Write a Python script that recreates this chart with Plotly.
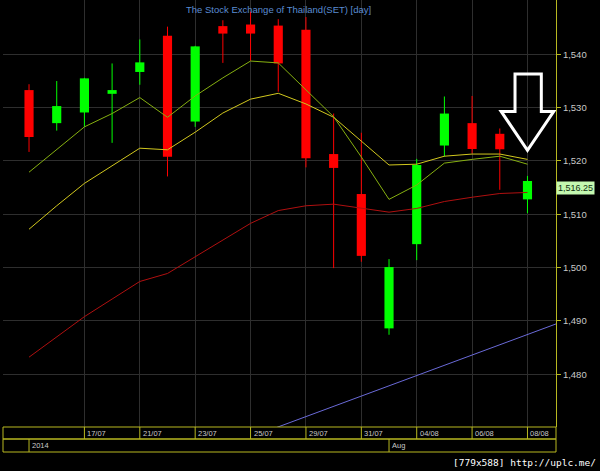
import plotly.graph_objects as go

# ---------------- data ----------------
dates = ["15/07", "16/07", "17/07", "18/07", "21/07", "22/07", "23/07", "24/07", "25/07",
         "28/07", "29/07", "30/07", "31/07", "01/08", "04/08", "05/08", "06/08", "07/08", "08/08"]
opens = [1533.3, 1527.1, 1529.1, 1532.6, 1536.7, 1543.5, 1527.4, 1545.3, 1545.6,
         1545.4, 1544.6, 1521.3, 1513.8, 1488.6, 1504.4, 1522.9, 1527.1, 1525.1, 1512.8]
highs = [1534.4, 1535.0, 1535.6, 1538.3, 1542.8, 1545.2, 1541.6, 1546.4, 1548.0,
         1546.6, 1547.0, 1528.9, 1525.3, 1501.6, 1520.4, 1532.1, 1532.2, 1526.1, 1517.2]
lows = [1521.7, 1525.7, 1526.4, 1523.4, 1534.3, 1517.1, 1526.4, 1538.4, 1538.8,
        1533.0, 1518.8, 1499.9, 1501.1, 1487.4, 1501.4, 1520.8, 1521.4, 1514.6, 1510.2]
closes = [1524.5, 1530.3, 1535.5, 1533.3, 1538.5, 1520.8, 1541.5, 1543.9, 1543.9,
          1538.3, 1520.5, 1518.7, 1502.2, 1500.1, 1519.25, 1528.9, 1522.25, 1522.2, 1516.25]
ma_fast = [1517.9, 1522.2, 1526.4, 1528.9, 1531.9, 1528.2, 1532.2, 1535.6, 1538.75,
           1538.4, 1533.3, 1528.3, 1520.75, 1512.8, 1515.5, 1519.6, 1520.3, 1520.9, 1519.4]
ma_mid = [1507.2, 1511.6, 1515.8, 1519.1, 1522.4, 1522.1, 1525.4, 1529.0, 1531.6,
          1532.7, 1530.7, 1528.2, 1523.75, 1519.25, 1519.4, 1520.9, 1521.3, 1521.3, 1520.3]
ma_slow = [1483.2, 1487.0, 1490.8, 1494.1, 1497.4, 1498.9, 1502.0, 1505.2, 1508.3,
           1510.7, 1511.6, 1511.9, 1511.2, 1510.4, 1511.1, 1512.4, 1513.2, 1513.9, 1514.1]
trend_idx = [8, 20]
trend_vals = [1468.2, 1491.3]
y_ticks = [1480, 1490, 1500, 1510, 1520, 1530, 1540]
label_dates = dates[2::2]
year_label = "2014"
month_label = "Aug"
month_start = "01/08"
title_text = "The Stock Exchange of Thailand(SET) [day]"
last_price = closes[-1]

# ---------------- styling ----------------
W, H = 600, 471
L, R, T, B = 3, 44, 0, 44
PLOT_H = H - T - B
UP, DOWN = "#00ff00", "#ff0000"
AXIS_YEL = "#b8b820"
GRID = "#2e2e2e"
LABEL = "#c8c8c8"

idx = list(range(len(dates)))

def px_y(py):
    """pixel (from top of page) -> paper y"""
    return (PLOT_H + T - py) / PLOT_H

fig = go.Figure()

# wicks
for color, cond in ((UP, lambda o, c: c >= o), (DOWN, lambda o, c: c < o)):
    xs, ys = [], []
    for i, o, h, l, c in zip(idx, opens, highs, lows, closes):
        if cond(o, c):
            xs += [i, i, None]
            ys += [l, h, None]
    fig.add_trace(go.Scatter(x=xs, y=ys, mode="lines", line=dict(color=color, width=1),
                             hoverinfo="skip", showlegend=False))

# bodies
base = [min(o, c) for o, c in zip(opens, closes)]
size = [max(abs(c - o), 0.35) for o, c in zip(opens, closes)]
colors = [UP if c >= o else DOWN for o, c in zip(opens, closes)]
fig.add_trace(go.Bar(x=idx, y=size, base=base, width=0.33, marker=dict(color=colors, line=dict(width=0)),
                     showlegend=False, hoverinfo="skip"))

# moving averages
fig.add_trace(go.Scatter(x=idx, y=ma_slow, mode="lines", line=dict(color="#b01010", width=1), showlegend=False))
fig.add_trace(go.Scatter(x=idx, y=ma_mid, mode="lines", line=dict(color="#d2c81e", width=1), showlegend=False))
fig.add_trace(go.Scatter(x=idx, y=ma_fast, mode="lines", line=dict(color="#86b010", width=1), showlegend=False))
fig.add_trace(go.Scatter(x=trend_idx, y=trend_vals, mode="lines", line=dict(color="#6a6ad8", width=1), showlegend=False))

shapes = []
annotations = []

# bottom date band
r1_top, r1_bot, r2_bot = px_y(427), px_y(439), px_y(452)
band_line = dict(color=AXIS_YEL, width=1)
shapes.append(dict(type="rect", xref="paper", yref="paper", x0=0, x1=1, y0=r1_bot, y1=r1_top, line=band_line))
shapes.append(dict(type="rect", xref="paper", yref="paper", x0=0, x1=1, y0=r2_bot, y1=r1_bot, line=band_line))
for d in label_dates:
    i = dates.index(d)
    shapes.append(dict(type="line", xref="x", yref="paper", x0=i, x1=i, y0=r1_bot, y1=r1_top, line=band_line))
    annotations.append(dict(x=i, y=(r1_top + r1_bot) / 2, xref="x", yref="paper", text=d, showarrow=False,
                            xanchor="left", yanchor="middle", xshift=1,
                            font=dict(family="Liberation Sans, Arial", size=7.5, color=LABEL)))
for lab, i in ((year_label, 0), (month_label, dates.index(month_start))):
    shapes.append(dict(type="line", xref="x", yref="paper", x0=i, x1=i, y0=r2_bot, y1=r1_bot, line=band_line))
    annotations.append(dict(x=i, y=(r1_bot + r2_bot) / 2, xref="x", yref="paper", text=lab, showarrow=False,
                            xanchor="left", yanchor="middle", xshift=1,
                            font=dict(family="Liberation Sans, Arial", size=7.5, color=LABEL)))

# white arrow pointing at last candle
last = idx[-1]
ax = [last - 0.45, last + 0.5, last + 0.5, last + 0.95, last, last - 0.95, last - 0.45]
ay = [1536.3, 1536.3, 1529.3, 1529.3, 1522.0, 1529.3, 1529.3]
path = "M " + " L ".join(f"{x},{y}" for x, y in zip(ax, ay)) + " Z"
shapes.append(dict(type="path", xref="x", yref="y", path=path, line=dict(color="white", width=3),
                   fillcolor="rgba(0,0,0,0)"))

# title
annotations.append(dict(x=9, y=1, xref="x", yref="paper", text=title_text, showarrow=False,
                        xanchor="center", yanchor="top", yshift=-2,
                        font=dict(family="Liberation Sans, Arial", size=9.5, color="#5a8cd2")))
# last price tag
annotations.append(dict(x=1, y=last_price, xref="paper", yref="y", text=f"{last_price:,.2f}", showarrow=False,
                        xanchor="left", yanchor="top", bgcolor="#c4f8b0", borderpad=1,
                        font=dict(family="Liberation Sans, Arial", size=9, color="#103010")))
# watermark
annotations.append(dict(x=(598 - L) / (W - L - R), y=px_y(462), xref="paper", yref="paper",
                        text="[779x588] http://uplc.me/", showarrow=False, xanchor="right", yanchor="middle",
                        font=dict(family="DejaVu Sans Mono", size=9.5, color="white")))

fig.update_layout(
    width=W, height=H, margin=dict(l=L, r=R, t=T, b=B, pad=0),
    paper_bgcolor="black", plot_bgcolor="black",
    barmode="overlay", showlegend=False, hovermode=False,
    shapes=shapes, annotations=annotations,
    xaxis=dict(range=[-0.94, 19.03], tickvals=[dates.index(d) for d in label_dates], showticklabels=False,
               ticks="", showgrid=True, gridcolor=GRID, gridwidth=1, zeroline=False, showline=False,
               fixedrange=True),
    yaxis=dict(side="right", range=[1470.1, 1550.2], tickvals=y_ticks, tickformat=",",
               showgrid=True, gridcolor=GRID, gridwidth=1, zeroline=False,
               showline=True, linecolor=AXIS_YEL, linewidth=1,
               ticks="outside", ticklen=4, tickcolor=AXIS_YEL,
               tickfont=dict(family="Liberation Sans, Arial", size=9.5, color=LABEL), fixedrange=True),
)

fig.write_html("out.html", config={"displayModeBar": False},
               post_script="document.body.style.margin='0';document.body.style.background='black';")
